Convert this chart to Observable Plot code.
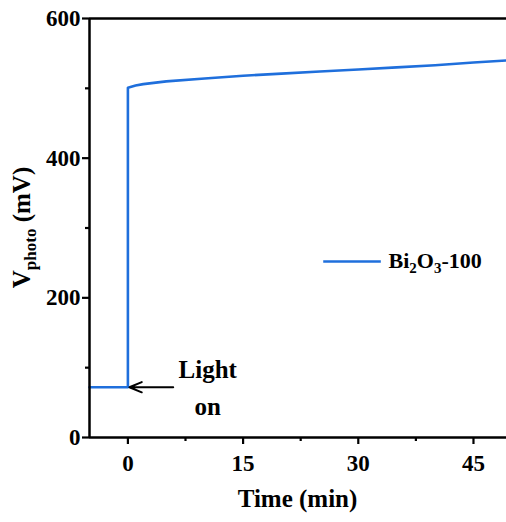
<!DOCTYPE html>
<html>
<head>
<meta charset="utf-8">
<script src="https://cdn.jsdelivr.net/npm/d3@7"></script>
<script src="https://cdn.jsdelivr.net/npm/@observablehq/plot@0.6"></script>
<style>
  body { margin: 0; background: #fff; }
  #chart svg { display: block; }
</style>
</head>
<body>
<div id="chart"></div>
<script>
// Photovoltage response of Bi2O3-100 before and after illumination
const darkTime = [-5, 0];
const darkVolt = [72, 72];
const lightTime = [0, 0, 1, 2, 5, 10, 15, 20, 25, 30, 35, 40, 45, 49.3];
const lightVolt = [72, 501, 504, 506, 510, 514, 518, 521, 524, 527, 530, 533, 537, 540];
const xTicks = [0, 15, 30, 45];
const xMinor = [7.5, 22.5, 37.5];
const yTicks = [0, 200, 400, 600];
const yMinor = [100, 300, 500];

const series = [
  ...darkTime.map((t, i) => ({t, v: darkVolt[i]})),
  ...lightTime.map((t, i) => ({t, v: lightVolt[i]}))
];

const SERIF = "Liberation Serif";
const BLUE = "#1f6fdc";

const plot = Plot.plot({
  width: 506,
  height: 522,
  marginLeft: 89,
  marginRight: 0,
  marginTop: 18,
  marginBottom: 85,
  style: {fontSize: "22px", color: "#000", background: "#fff", overflow: "visible"},
  x: {domain: [-5, 49.3]},
  y: {domain: [0, 600]},
  marks: [
    Plot.line(series, {x: "t", y: "v", stroke: BLUE, strokeWidth: 2.6}),
    Plot.ruleY([600], {stroke: "#000", strokeWidth: 2.5}),
    Plot.ruleY([0], {stroke: "#000", strokeWidth: 2.5}),
    Plot.ruleX([-5], {stroke: "#000", strokeWidth: 2.5}),
    Plot.axisY({ticks: yTicks, tickSize: 7, tickPadding: 2, strokeWidth: 2.2, label: null, fontSize: 23}),
    Plot.axisY({ticks: yMinor, tickSize: 4, tickFormat: () => "", strokeWidth: 2.2, label: null}),
    Plot.axisX({ticks: xTicks, tickSize: 7, tickPadding: 10, strokeWidth: 2.2, label: null, fontSize: 23}),
    Plot.axisX({ticks: xMinor, tickSize: 4, tickFormat: () => "", strokeWidth: 2.2, label: null}),
    // "Light on" annotation with an arrow toward the step
    Plot.arrow([{x1: 5.9, x2: 0.2, y: 72}], {x1: "x1", x2: "x2", y1: "y", y2: "y", stroke: "#000", strokeWidth: 2, headLength: 10, headAngle: 45}),
    Plot.text(["Light"], {x: 10.4, y: 96, fontSize: 25}),
    Plot.text(["on"], {x: 10.4, y: 44, fontSize: 25}),
    // legend swatch
    Plot.ruleY([252], {x1: 25.5, x2: 33, stroke: BLUE, strokeWidth: 2.6})
  ]
});

document.getElementById("chart").appendChild(plot);

// Labels with subscripts, placed through the plot's scales
const sx = plot.scale("x"), sy = plot.scale("y");
const g = d3.select(plot).append("g").attr("fill", "#000");

// x-axis title
g.append("text")
  .attr("x", (sx.apply(-5) + 506) / 2)
  .attr("y", sy.apply(0) + 70)
  .attr("text-anchor", "middle")
  .attr("font-size", 25)
  .text("Time (min)");

// y-axis title: V_photo (mV)
const yt = g.append("text")
  .attr("transform", `translate(30,${(sy.apply(0) + sy.apply(600)) / 2}) rotate(-90)`)
  .attr("text-anchor", "middle")
  .attr("font-size", 25);
yt.append("tspan").text("V");
yt.append("tspan").attr("font-size", 17).attr("dy", 6).text("photo");
yt.append("tspan").attr("dy", -6).text(" (mV)");

// legend label: Bi2O3-100
const lt = g.append("text")
  .attr("x", sx.apply(34))
  .attr("y", sy.apply(252) + 7)
  .attr("text-anchor", "start")
  .attr("font-size", 22);
lt.append("tspan").text("Bi");
lt.append("tspan").attr("font-size", 15).attr("dy", 5).text("2");
lt.append("tspan").attr("dy", -5).text("O");
lt.append("tspan").attr("font-size", 15).attr("dy", 5).text("3");
lt.append("tspan").attr("dy", -5).text("-100");

// serif bold type for every label
d3.select(plot).selectAll("text, tspan").each(function () {
  this.style.setProperty("font-family", SERIF, "important");
  this.style.setProperty("font-weight", "bold", "important");
});
</script>
</body>
</html>
